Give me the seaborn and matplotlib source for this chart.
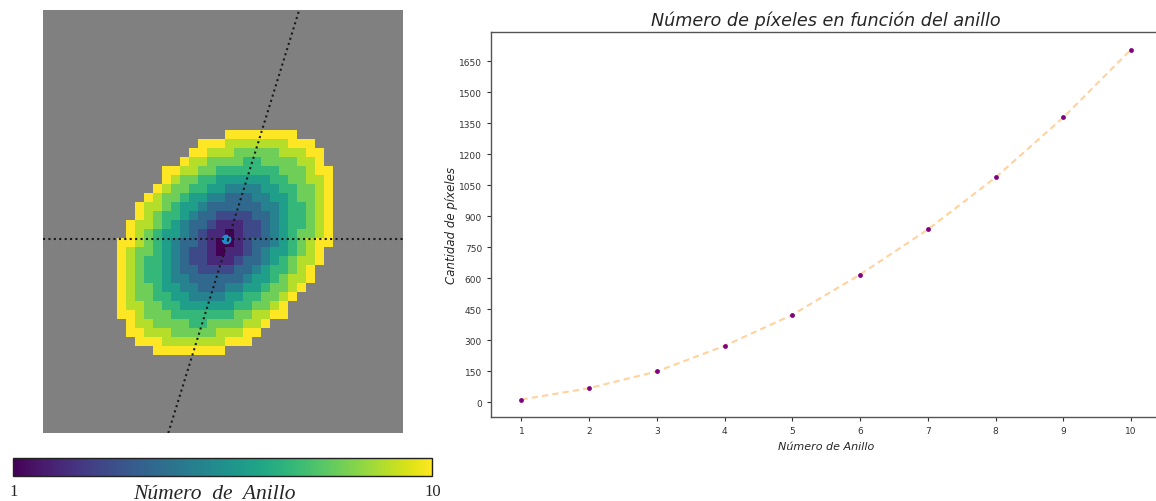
import numpy as np
import pandas as pd
import matplotlib
matplotlib.use("Agg")
import matplotlib.pyplot as plt
import seaborn as sns

# --- pixel count per ring (right panel) ---
anillos = [1, 2, 3, 4, 5, 6, 7, 8, 9, 10]
pixeles = [14, 69, 150, 274, 424, 619, 837, 1089, 1379, 1708]
yticks_vals = [0, 150, 300, 450, 600, 750, 900, 1050, 1200, 1350, 1500, 1650]

# --- ring map geometry (left panel, in grid cells) ---
n_anillos = 10
grid_shape = (48, 42)              # rows, cols
centro_elipse = (21.0, 26.5)       # x (col), y (row)
semiejes = (14.7, 10.25)           # major, minor
angulo_elipse = 49.0               # degrees, major axis up-right
centro_marca = (21.09, 26.15)
punto_eje = (21.4, 26.15)
angulo_eje = 72.8                  # degrees, orientation line
vista_x = (0.81, 40.81)
vista_y = (47.7, 0.7)

sns.set_theme(style="white")
plt.rcParams["font.family"] = ["DejaVu Sans"]

fig = plt.figure(figsize=(11.56, 5.02), dpi=100)

# ---------- left: ring map ----------
ax_img = fig.add_axes([43 / 1156, (502 - 434) / 502, 360 / 1156, 423 / 502])
cax = fig.add_axes([13.3 / 1156, (502 - 477.3) / 502, 419 / 1156, 18.3 / 502])

rows, cols = grid_shape
yy, xx = np.mgrid[0:rows, 0:cols] + 0.5
dx = xx - centro_elipse[0]
dy = yy - centro_elipse[1]
t = np.deg2rad(angulo_elipse)
u = dx * np.cos(t) - dy * np.sin(t)
v = dx * np.sin(t) + dy * np.cos(t)
d = np.sqrt((u / semiejes[0]) ** 2 + (v / semiejes[1]) ** 2)
anillo = np.clip(np.ceil(d * n_anillos), 1, None)
mapa = pd.DataFrame(np.where(d <= 1, anillo, np.nan))

sns.heatmap(mapa, ax=ax_img, cmap="viridis", vmin=1, vmax=n_anillos,
            mask=mapa.isna(), xticklabels=False, yticklabels=False,
            cbar_ax=cax, cbar_kws={"orientation": "horizontal"})
ax_img.set_facecolor("#808080")
ax_img.set_xlim(*vista_x)
ax_img.set_ylim(*vista_y)
ax_img.tick_params(length=0)

ax_img.plot([centro_marca[0]], [centro_marca[1]], "o", color="#1f8fd0",
            markersize=6, zorder=3)
ax_img.axhline(centro_marca[1], color="#1a1a1a", ls=(0, (1, 1.6)), lw=1.5, zorder=4)
pend = -np.tan(np.deg2rad(angulo_eje))
ax_img.axline(punto_eje, slope=pend, color="#1a1a1a", ls=(0, (1, 1.6)),
              lw=1.5, zorder=4)

cbar = ax_img.collections[0].colorbar
cbar.set_ticks([1, n_anillos])
cbar.ax.tick_params(length=0, pad=5, labelsize=12)
for lab in cbar.ax.get_xticklabels():
    lab.set_family("Liberation Serif")
cbar.outline.set_edgecolor("#222222")
cbar.outline.set_linewidth(1.0)
cbar.ax.set_xlabel("Número  de  Anillo", family="Liberation Serif",
                   style="italic", fontsize=15.5, labelpad=-11)
cbar.ax.xaxis.label.set_x(0.479)

# ---------- right: pixels per ring ----------
ax = fig.add_axes([491 / 1156, (502 - 418) / 502, (1161.5 - 491) / 1156, (418 - 33) / 502])
df = pd.DataFrame({"anillo": anillos, "pixeles": pixeles})
sns.lineplot(data=df, x="anillo", y="pixeles", ax=ax, color="#ffd29e",
             lw=1.5, linestyle=(0, (3, 2)))
sns.scatterplot(data=df, x="anillo", y="pixeles", ax=ax, color="purple",
                s=12, linewidth=0, zorder=3)
ax.set_xticks(anillos)
ax.set_yticks(yticks_vals)
ax.tick_params(labelsize=6.5, length=3, width=0.8, colors="#333333",
               bottom=True, left=True)
for s in ["left", "bottom", "top", "right"]:
    ax.spines[s].set_color("#555555")
    ax.spines[s].set_linewidth(1.0)
ax.set_title("Número de píxeles en función del anillo", style="italic",
             fontsize=12.7, pad=5)
ax.set_xlabel("Número de Anillo", style="italic", fontsize=8)
ax.set_ylabel("Cantidad de píxeles", style="italic", fontsize=8.5, labelpad=0.5)

fig.savefig("out.png", dpi=100)
